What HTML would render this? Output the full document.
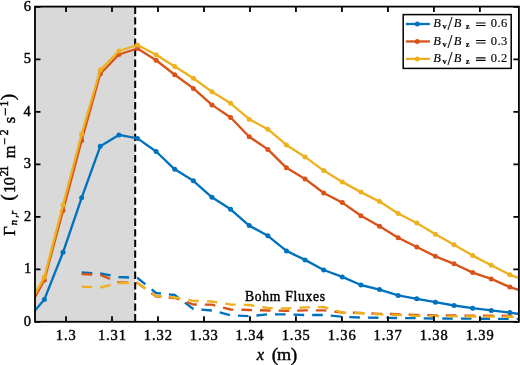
<!DOCTYPE html>
<html><head><meta charset="utf-8"><style>
html,body{margin:0;padding:0;background:#fff;}
body{width:520px;height:365px;overflow:hidden;}
svg{display:block;filter:blur(0.3px);}
.t{font-family:"Liberation Serif",serif;fill:#000;stroke:#000;stroke-width:0.42px;}
</style></head><body>
<svg width="520" height="365" viewBox="0 0 520 365">
<defs><clipPath id="c"><rect x="35.0" y="6.6" width="483.9" height="315.2"/></clipPath></defs>
<rect width="520" height="365" fill="#fff"/>
<rect x="35.0" y="6.6" width="100.19999999999999" height="315.2" fill="#D9D9D9"/>
<line x1="135.2" y1="6.6" x2="135.2" y2="321.8" stroke="#000" stroke-width="2" stroke-dasharray="7.3 3.3"/>
<g clip-path="url(#c)">
<polyline points="81.64,272.50 100.26,273.50 118.88,277.00 137.50,278.00 156.12,293.00 174.74,295.00 193.36,309.00 211.98,310.50 230.60,315.30 249.22,316.20 267.84,314.30 286.46,314.30 305.08,315.00 323.70,315.00 342.32,316.80 360.94,317.50 379.56,317.80 398.18,318.00 416.80,318.20 435.42,318.50 454.04,318.60 472.66,318.70 491.28,318.80 509.90,318.80 523.90,318.80" fill="none" stroke="#0072BD" stroke-width="2.35" stroke-dasharray="10.6 8.0" stroke-linejoin="round"/>

<polyline points="81.64,274.00 100.26,275.00 118.88,282.50 137.50,283.00 156.12,296.50 174.74,298.00 193.36,304.50 211.98,304.70 230.60,309.50 249.22,310.00 267.84,310.50 286.46,310.80 305.08,310.40 323.70,310.40 342.32,312.50 360.94,313.00 379.56,313.80 398.18,314.20 416.80,315.00 435.42,315.30 454.04,315.50 472.66,315.60 491.28,315.70 509.90,315.80 523.90,315.80" fill="none" stroke="#D95319" stroke-width="2.35" stroke-dasharray="10.6 8.0" stroke-linejoin="round"/>

<polyline points="81.64,286.70 100.26,287.50 118.88,283.00 137.50,283.00 156.12,296.00 174.74,297.50 193.36,300.80 211.98,301.50 230.60,304.50 249.22,305.00 267.84,308.00 286.46,308.50 305.08,307.30 323.70,307.00 342.32,312.50 360.94,313.20 379.56,314.40 398.18,315.00 416.80,315.80 435.42,316.20 454.04,316.40 472.66,316.50 491.28,316.60 509.90,316.70 523.90,316.70" fill="none" stroke="#EDB120" stroke-width="2.35" stroke-dasharray="10.6 8.0" stroke-linejoin="round"/>

<polyline points="32.00,314.04 44.40,299.40 63.02,252.30 81.64,197.80 100.26,146.30 118.88,134.90 137.50,138.40 156.12,151.50 174.74,169.30 193.36,180.80 211.98,197.30 230.60,209.30 249.22,225.60 267.84,235.80 286.46,250.90 305.08,259.90 323.70,270.00 342.32,276.90 360.94,285.00 379.56,289.60 398.18,295.40 416.80,298.80 435.42,302.20 454.04,305.50 472.66,308.20 491.28,310.40 509.90,312.60 521.90,314.47" fill="none" stroke="#0072BD" stroke-width="2.35" stroke-linejoin="round"/>
<circle cx="44.40" cy="299.40" r="2.5" fill="#0072BD"/><circle cx="63.02" cy="252.30" r="2.5" fill="#0072BD"/><circle cx="81.64" cy="197.80" r="2.5" fill="#0072BD"/><circle cx="100.26" cy="146.30" r="2.5" fill="#0072BD"/><circle cx="118.88" cy="134.90" r="2.5" fill="#0072BD"/><circle cx="137.50" cy="138.40" r="2.5" fill="#0072BD"/><circle cx="156.12" cy="151.50" r="2.5" fill="#0072BD"/><circle cx="174.74" cy="169.30" r="2.5" fill="#0072BD"/><circle cx="193.36" cy="180.80" r="2.5" fill="#0072BD"/><circle cx="211.98" cy="197.30" r="2.5" fill="#0072BD"/><circle cx="230.60" cy="209.30" r="2.5" fill="#0072BD"/><circle cx="249.22" cy="225.60" r="2.5" fill="#0072BD"/><circle cx="267.84" cy="235.80" r="2.5" fill="#0072BD"/><circle cx="286.46" cy="250.90" r="2.5" fill="#0072BD"/><circle cx="305.08" cy="259.90" r="2.5" fill="#0072BD"/><circle cx="323.70" cy="270.00" r="2.5" fill="#0072BD"/><circle cx="342.32" cy="276.90" r="2.5" fill="#0072BD"/><circle cx="360.94" cy="285.00" r="2.5" fill="#0072BD"/><circle cx="379.56" cy="289.60" r="2.5" fill="#0072BD"/><circle cx="398.18" cy="295.40" r="2.5" fill="#0072BD"/><circle cx="416.80" cy="298.80" r="2.5" fill="#0072BD"/><circle cx="435.42" cy="302.20" r="2.5" fill="#0072BD"/><circle cx="454.04" cy="305.50" r="2.5" fill="#0072BD"/><circle cx="472.66" cy="308.20" r="2.5" fill="#0072BD"/><circle cx="491.28" cy="310.40" r="2.5" fill="#0072BD"/><circle cx="509.90" cy="312.60" r="2.5" fill="#0072BD"/>

<polyline points="32.00,302.46 44.40,279.90 63.02,210.40 81.64,140.50 100.26,74.00 118.88,54.50 137.50,48.50 156.12,60.20 174.74,74.70 193.36,88.40 211.98,104.90 230.60,117.50 249.22,136.70 267.84,149.40 286.46,167.80 305.08,178.90 323.70,193.00 342.32,202.60 360.94,215.80 379.56,226.30 398.18,237.80 416.80,247.00 435.42,256.30 454.04,263.80 472.66,272.60 491.28,278.90 509.90,287.10 521.90,290.97" fill="none" stroke="#D95319" stroke-width="2.35" stroke-linejoin="round"/>
<circle cx="44.40" cy="279.90" r="2.5" fill="#D95319"/><circle cx="63.02" cy="210.40" r="2.5" fill="#D95319"/><circle cx="81.64" cy="140.50" r="2.5" fill="#D95319"/><circle cx="100.26" cy="74.00" r="2.5" fill="#D95319"/><circle cx="118.88" cy="54.50" r="2.5" fill="#D95319"/><circle cx="137.50" cy="48.50" r="2.5" fill="#D95319"/><circle cx="156.12" cy="60.20" r="2.5" fill="#D95319"/><circle cx="174.74" cy="74.70" r="2.5" fill="#D95319"/><circle cx="193.36" cy="88.40" r="2.5" fill="#D95319"/><circle cx="211.98" cy="104.90" r="2.5" fill="#D95319"/><circle cx="230.60" cy="117.50" r="2.5" fill="#D95319"/><circle cx="249.22" cy="136.70" r="2.5" fill="#D95319"/><circle cx="267.84" cy="149.40" r="2.5" fill="#D95319"/><circle cx="286.46" cy="167.80" r="2.5" fill="#D95319"/><circle cx="305.08" cy="178.90" r="2.5" fill="#D95319"/><circle cx="323.70" cy="193.00" r="2.5" fill="#D95319"/><circle cx="342.32" cy="202.60" r="2.5" fill="#D95319"/><circle cx="360.94" cy="215.80" r="2.5" fill="#D95319"/><circle cx="379.56" cy="226.30" r="2.5" fill="#D95319"/><circle cx="398.18" cy="237.80" r="2.5" fill="#D95319"/><circle cx="416.80" cy="247.00" r="2.5" fill="#D95319"/><circle cx="435.42" cy="256.30" r="2.5" fill="#D95319"/><circle cx="454.04" cy="263.80" r="2.5" fill="#D95319"/><circle cx="472.66" cy="272.60" r="2.5" fill="#D95319"/><circle cx="491.28" cy="278.90" r="2.5" fill="#D95319"/><circle cx="509.90" cy="287.10" r="2.5" fill="#D95319"/>

<polyline points="32.00,299.39 44.40,277.10 63.02,205.00 81.64,134.20 100.26,70.00 118.88,51.00 137.50,45.00 156.12,54.70 174.74,66.50 193.36,78.30 211.98,91.70 230.60,103.30 249.22,119.20 267.84,129.20 286.46,144.90 305.08,156.90 323.70,170.60 342.32,181.90 360.94,192.10 379.56,201.60 398.18,213.50 416.80,223.00 435.42,234.30 454.04,244.70 472.66,255.60 491.28,265.20 509.90,274.80 521.90,279.07" fill="none" stroke="#EDB120" stroke-width="2.35" stroke-linejoin="round"/>
<circle cx="44.40" cy="277.10" r="2.5" fill="#EDB120"/><circle cx="63.02" cy="205.00" r="2.5" fill="#EDB120"/><circle cx="81.64" cy="134.20" r="2.5" fill="#EDB120"/><circle cx="100.26" cy="70.00" r="2.5" fill="#EDB120"/><circle cx="118.88" cy="51.00" r="2.5" fill="#EDB120"/><circle cx="137.50" cy="45.00" r="2.5" fill="#EDB120"/><circle cx="156.12" cy="54.70" r="2.5" fill="#EDB120"/><circle cx="174.74" cy="66.50" r="2.5" fill="#EDB120"/><circle cx="193.36" cy="78.30" r="2.5" fill="#EDB120"/><circle cx="211.98" cy="91.70" r="2.5" fill="#EDB120"/><circle cx="230.60" cy="103.30" r="2.5" fill="#EDB120"/><circle cx="249.22" cy="119.20" r="2.5" fill="#EDB120"/><circle cx="267.84" cy="129.20" r="2.5" fill="#EDB120"/><circle cx="286.46" cy="144.90" r="2.5" fill="#EDB120"/><circle cx="305.08" cy="156.90" r="2.5" fill="#EDB120"/><circle cx="323.70" cy="170.60" r="2.5" fill="#EDB120"/><circle cx="342.32" cy="181.90" r="2.5" fill="#EDB120"/><circle cx="360.94" cy="192.10" r="2.5" fill="#EDB120"/><circle cx="379.56" cy="201.60" r="2.5" fill="#EDB120"/><circle cx="398.18" cy="213.50" r="2.5" fill="#EDB120"/><circle cx="416.80" cy="223.00" r="2.5" fill="#EDB120"/><circle cx="435.42" cy="234.30" r="2.5" fill="#EDB120"/><circle cx="454.04" cy="244.70" r="2.5" fill="#EDB120"/><circle cx="472.66" cy="255.60" r="2.5" fill="#EDB120"/><circle cx="491.28" cy="265.20" r="2.5" fill="#EDB120"/><circle cx="509.90" cy="274.80" r="2.5" fill="#EDB120"/>

</g>
<path d="M66.00,321.8V316.3M66.00,6.6V12.1M111.99,321.8V316.3M111.99,6.6V12.1M157.98,321.8V316.3M157.98,6.6V12.1M203.97,321.8V316.3M203.97,6.6V12.1M249.96,321.8V316.3M249.96,6.6V12.1M295.95,321.8V316.3M295.95,6.6V12.1M341.94,321.8V316.3M341.94,6.6V12.1M387.93,321.8V316.3M387.93,6.6V12.1M433.92,321.8V316.3M433.92,6.6V12.1M479.91,321.8V316.3M479.91,6.6V12.1M35.0,321.80H40.5M518.9,321.80H513.4M35.0,269.30H40.5M518.9,269.30H513.4M35.0,216.80H40.5M518.9,216.80H513.4M35.0,164.30H40.5M518.9,164.30H513.4M35.0,111.80H40.5M518.9,111.80H513.4M35.0,59.30H40.5M518.9,59.30H513.4M35.0,6.80H40.5M518.9,6.80H513.4" stroke="#000" stroke-width="1.8" fill="none"/>
<rect x="35.0" y="6.6" width="483.9" height="315.2" fill="none" stroke="#000" stroke-width="1.8"/>
<g class="t"><text x="55.83 63.98 68.51" y="339.60" font-size="14.5">1.3</text><text x="97.90 106.05 110.58 118.73" y="339.60" font-size="14.5">1.31</text><text x="143.86 152.01 156.53 164.68" y="339.60" font-size="14.5">1.32</text><text x="189.73 197.88 202.40 210.55" y="339.60" font-size="14.5">1.33</text><text x="235.55 243.70 248.22 256.37" y="339.60" font-size="14.5">1.34</text><text x="281.71 289.86 294.38 302.53" y="339.60" font-size="14.5">1.35</text><text x="327.63 335.78 340.31 348.46" y="339.60" font-size="14.5">1.36</text><text x="373.61 381.76 386.29 394.44" y="339.60" font-size="14.5">1.37</text><text x="419.67 427.82 432.35 440.50" y="339.60" font-size="14.5">1.38</text><text x="465.68 473.83 478.36 486.51" y="339.60" font-size="14.5">1.39</text><text x="23.80" y="325.90" font-size="14.5">0</text><text x="24.12" y="273.40" font-size="14.5">1</text><text x="24.05" y="220.90" font-size="14.5">2</text><text x="23.82" y="168.40" font-size="14.5">3</text><text x="23.48" y="115.90" font-size="14.5">4</text><text x="23.82" y="63.40" font-size="14.5">5</text><text x="23.68" y="10.90" font-size="14.5">6</text><text x="256.80" y="360.00" font-size="16.5" font-style="italic">x</text><text x="271.74" y="361.30" font-size="19.5">(</text><text transform="translate(277.02,360.00) scale(1.1,1)" font-size="16.5">m</text><text x="290.76" y="361.30" font-size="19.5">)</text><text x="245.0" y="300.9" font-size="13.6" textLength="80" lengthAdjust="spacing">Bohm Fluxes</text></g>
<g class="t" transform="rotate(-90)"><text x="-235.78" y="14.90" font-size="16.5">Γ</text><text x="-225.17" y="16.80" font-size="10.5" font-style="italic">n</text><text x="-217.85" y="16.80" font-size="10.5" font-style="italic">,</text><text x="-214.63" y="16.80" font-size="10.5" font-style="italic">r</text><text x="-200.66" y="14.30" font-size="19.5">(</text><text x="-193.05" y="14.90" font-size="16.5">1</text><text x="-185.33" y="14.90" font-size="16.5">0</text><text x="-176.31" y="8.40" font-size="11.5">2</text><text x="-171.41" y="8.40" font-size="11.5">1</text><text x="-158.15" y="14.90" font-size="16.5">m</text><text x="-144.92" y="9.40" font-size="12.5">−</text><text x="-135.31" y="8.40" font-size="11.5">2</text><text x="-123.18" y="14.90" font-size="16.5">s</text><text x="-116.12" y="10.00" font-size="14.5">−</text><text x="-106.51" y="8.40" font-size="11.5">1</text><text x="-100.13" y="14.30" font-size="19.5">)</text></g>
<rect x="403.2" y="14.6" width="108" height="53.8" fill="#fff" stroke="#000" stroke-width="1.5"/>
<line x1="405.8" y1="24.0" x2="429.9" y2="24.0" stroke="#0072BD" stroke-width="2.3"/><circle cx="417.3" cy="24.0" r="2.5" fill="#0072BD"/>
<path d="M476.1,23.00H485.6M476.1,25.50H485.6" stroke="#000" stroke-width="1.1"/>
<line x1="405.8" y1="41.45" x2="429.9" y2="41.45" stroke="#D95319" stroke-width="2.3"/><circle cx="417.3" cy="41.45" r="2.5" fill="#D95319"/>
<path d="M476.1,40.45H485.6M476.1,42.95H485.6" stroke="#000" stroke-width="1.1"/>
<line x1="405.8" y1="58.9" x2="429.9" y2="58.9" stroke="#EDB120" stroke-width="2.3"/><circle cx="417.3" cy="58.9" r="2.5" fill="#EDB120"/>
<path d="M476.1,57.90H485.6M476.1,60.40H485.6" stroke="#000" stroke-width="1.1"/>
<g class="t" style="stroke-width:0.15px"><text x="433.28" y="27.30" font-size="12.5" font-style="italic">B</text><text x="442.40" y="29.40" font-size="8.5" font-weight="bold">v</text><text x="447.40" y="30.20" font-size="18">/</text><text x="453.68" y="27.30" font-size="12.5" font-style="italic">B</text><text x="465.83" y="29.40" font-size="8.5" font-weight="bold">z</text><text x="490.72 497.47 501.10" y="27.30" font-size="12.5">0.6</text><text x="433.28" y="44.75" font-size="12.5" font-style="italic">B</text><text x="442.40" y="46.85" font-size="8.5" font-weight="bold">v</text><text x="447.40" y="47.65" font-size="18">/</text><text x="453.68" y="44.75" font-size="12.5" font-style="italic">B</text><text x="465.83" y="46.85" font-size="8.5" font-weight="bold">z</text><text x="490.72 497.47 501.10" y="44.75" font-size="12.5">0.3</text><text x="433.28" y="62.20" font-size="12.5" font-style="italic">B</text><text x="442.40" y="64.30" font-size="8.5" font-weight="bold">v</text><text x="447.40" y="65.10" font-size="18">/</text><text x="453.68" y="62.20" font-size="12.5" font-style="italic">B</text><text x="465.83" y="64.30" font-size="8.5" font-weight="bold">z</text><text x="490.72 497.47 501.10" y="62.20" font-size="12.5">0.2</text></g>
</svg>
</body></html>
